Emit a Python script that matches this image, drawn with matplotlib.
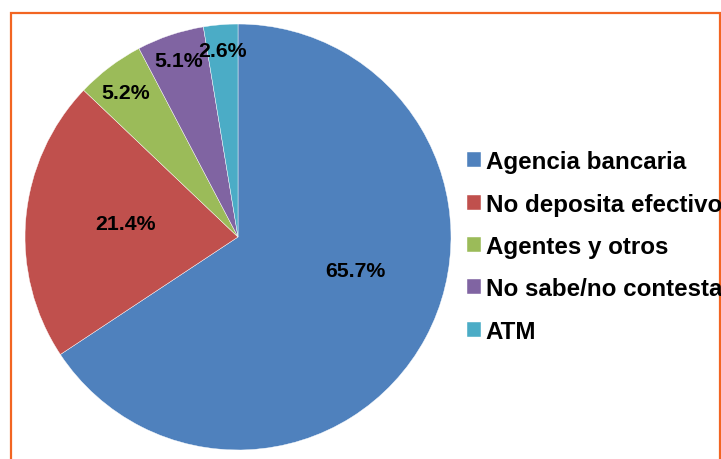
import numpy as np
import matplotlib.pyplot as plt
from matplotlib.patches import Rectangle

plt.rcParams['font.family'] = ['Liberation Sans', 'DejaVu Sans']

# data
labels = ['Agencia bancaria', 'No deposita efectivo', 'Agentes y otros',
          'No sabe/no contesta', 'ATM']
values = [65.7, 21.4, 5.2, 5.1, 2.6]
colors = ['#4F81BD', '#C0504D', '#9BBB59', '#8064A2', '#4BACC6']

# where the percentage labels sit (radius, angle in degrees)
label_r = [0.573, 0.53, 0.86, 0.877, 0.88]
label_ang = [-16.0, 173.0, 127.7, 108.7, 94.6]

fig = plt.figure(figsize=(7.21, 4.60), dpi=100)
ax = fig.add_axes([0.0347, 0.0196, 0.5908, 0.926])

wedges, _ = ax.pie(values, colors=colors, startangle=90, counterclock=False,
                   wedgeprops=dict(edgecolor='white', linewidth=0.3))
ax.set_xlim(-1, 1)
ax.set_ylim(-1, 1)
ax.set_aspect('equal')

for v, r, a in zip(values, label_r, label_ang):
    t = np.deg2rad(a)
    ax.text(r * np.cos(t), r * np.sin(t), '%.1f%%' % v, ha='center', va='center',
            fontsize=15.3, fontweight='bold', color='black')

leg = fig.legend(wedges, labels, loc='center left', bbox_to_anchor=(0.648, 0.462),
                 frameon=False, prop=dict(size=17.4, weight='bold'),
                 handlelength=0.58, handleheight=0.58, handletextpad=0.18,
                 labelspacing=0.8, borderaxespad=0, borderpad=0)

# orange frame round the chart
fig.patches.append(Rectangle((11 / 721, -0.1), (720 - 11) / 721, 1.1 - 14 / 460,
                             transform=fig.transFigure, fill=False,
                             edgecolor='#F26522', linewidth=1.6, clip_on=False))

fig.savefig('out.png', dpi=100)
